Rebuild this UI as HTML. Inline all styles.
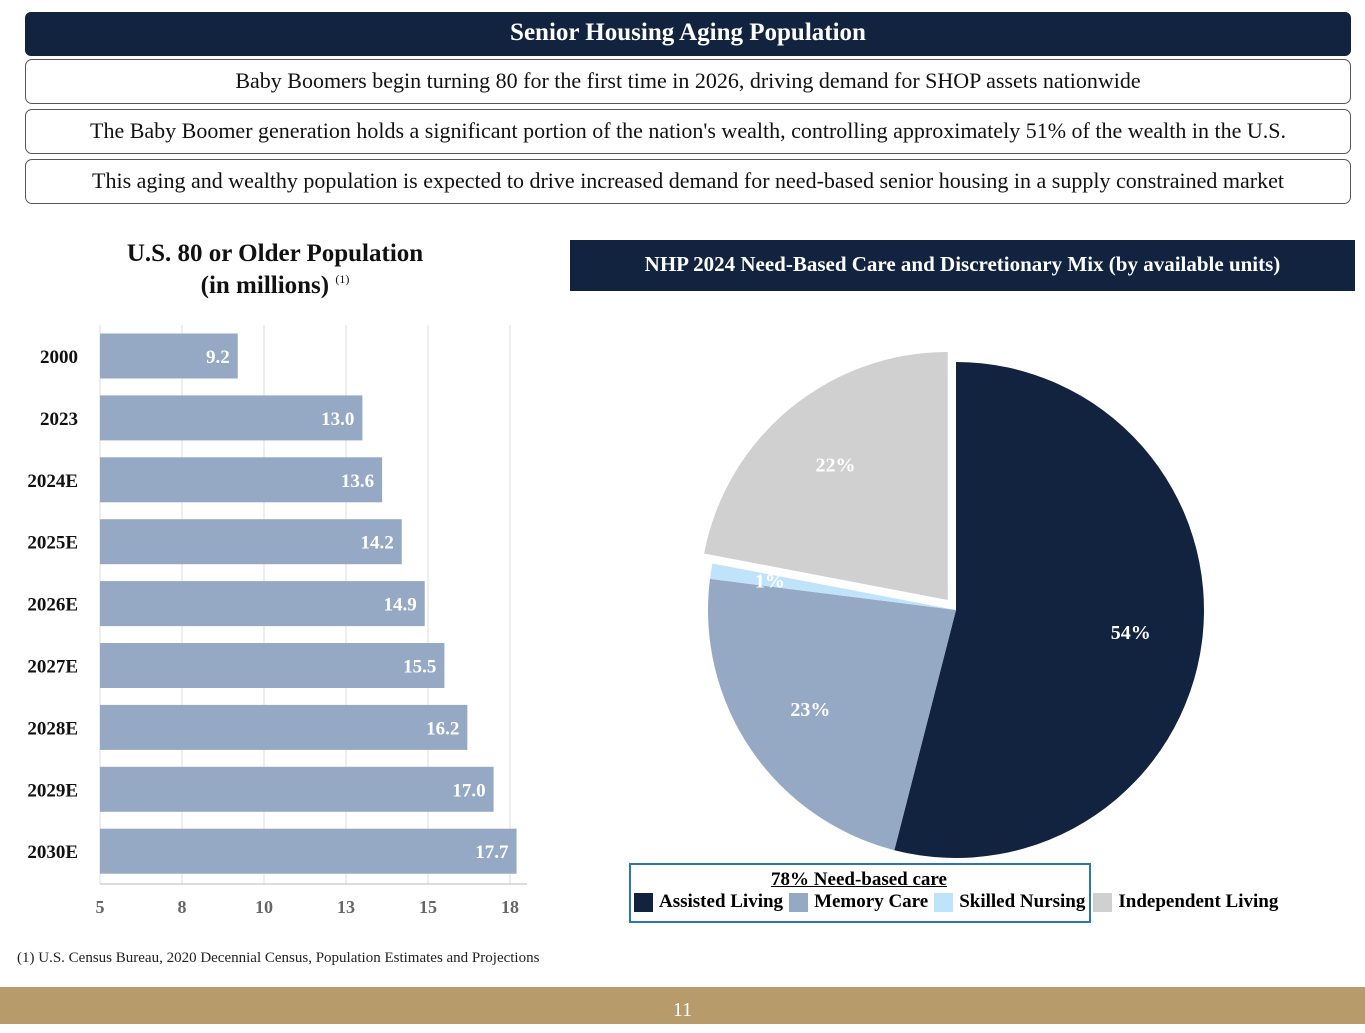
<!DOCTYPE html>
<html><head><meta charset="utf-8"><style>
body{margin:0;width:1365px;height:1024px;background:#fff;position:relative;overflow:hidden;font-family:"Liberation Serif",serif;}
.abs{position:absolute;}
.hdr{left:25px;top:12px;width:1326px;height:44px;background:#12233f;border-radius:6px;color:#fff;font-weight:bold;font-size:25px;text-align:center;line-height:42px;font-family:"Liberation Serif",serif;}
.box{left:25px;width:1324px;height:43px;border:1.5px solid #555;border-radius:7px;font-size:22px;text-align:center;line-height:42px;color:#111;font-family:"Liberation Serif",serif;}
</style></head><body>
<div class="abs hdr">Senior Housing Aging Population</div>
<div class="abs box" style="top:59px">Baby Boomers begin turning 80 for the first time in 2026, driving demand for SHOP assets nationwide</div>
<div class="abs box" style="top:109px">The Baby Boomer generation holds a significant portion of the nation's wealth, controlling approximately 51% of the wealth in the U.S.</div>
<div class="abs box" style="top:159px">This aging and wealthy population is expected to drive increased demand for need-based senior housing in a supply constrained market</div>
<div class="abs" style="left:60px;top:238px;width:430px;text-align:center;font-weight:bold;font-size:25px;line-height:32px;color:#111">U.S. 80 or Older Population<br>(in millions) <span style="font-size:12px;font-weight:normal;line-height:0;position:relative;top:-10px">(1)</span></div>
<div class="abs" style="left:570px;top:240px;width:785px;height:51px;background:#12233f;color:#fff;font-weight:bold;font-size:21px;text-align:center;line-height:48px">NHP 2024 Need-Based Care and Discretionary Mix (by available units)</div>
<svg class="abs" style="left:0;top:0" width="1365" height="1024">
<g id="bars"></g><g id="pie"></g></svg>
<div class="abs" style="left:629px;top:863px;width:458px;height:56px;border:2px solid #2e75b6"></div>
<div class="abs" style="left:629px;top:869px;width:460px;text-align:center;font-weight:bold;font-size:19px;text-decoration:underline">78% Need-based care</div>
<div class="abs" style="left:634px;top:891px;font-weight:bold;font-size:19px;white-space:nowrap;display:flex;gap:6px;align-items:center">
<span style="display:inline-block;width:19px;height:19px;background:#12233f"></span><span>Assisted Living</span>
<span style="display:inline-block;width:19px;height:19px;background:#95a9c5"></span><span>Memory Care</span>
<span style="display:inline-block;width:19px;height:19px;background:#bfe3fa"></span><span>Skilled Nursing</span>
<span style="display:inline-block;width:19px;height:19px;background:#d0d0d0;margin-left:2px"></span><span>Independent Living</span>
</div>
<div class="abs" style="left:17px;top:950px;font-size:15px;color:#222">(1) U.S. Census Bureau, 2020 Decennial Census, Population Estimates and Projections</div>
<div class="abs" style="left:0;top:987px;width:1365px;height:37px;background:#b89b6b;color:#fff;text-align:center;font-size:20px;line-height:46px">11</div>
<script>
const years=["2000","2023","2024E","2025E","2026E","2027E","2028E","2029E","2030E"];
const pops=[9.2,13.0,13.6,14.2,14.9,15.5,16.2,17.0,17.7];
const xTicks=[5,7.5,10,12.5,15,17.5];
const xTickLabels=["5","8","10","13","15","18"];
const pieLabels=["Assisted Living","Memory Care","Skilled Nursing","Independent Living"];
const pieValues=[54,23,1,22];
const pieColors=["#12233f","#95a9c5","#bfe3fa","#d0d0d0"];
const NS="http://www.w3.org/2000/svg";
function mk(t,a,p){const e=document.createElementNS(NS,t);for(const k in a)e.setAttribute(k,a[k]);p.appendChild(e);return e;}
const bx=v=>100+(v-5)*32.8, by=i=>356+i*61.9;
const bg=document.getElementById('bars');
xTicks.forEach((t,i)=>{
 const g=mk('line',{x1:bx(t),x2:bx(t),y1:325,y2:884,stroke:'#ddd'},bg);
 
 const l=mk('text',{x:bx(t),y:913,'text-anchor':'middle','font-size':18,'font-weight':'bold',fill:'#666','font-family':'Liberation Serif'},bg);l.textContent=xTickLabels[i];
 
});
mk('line',{x1:100,x2:527,y1:884,y2:884,stroke:'#bbb'},bg);
years.forEach((y,i)=>{
 const r=mk('rect',{x:bx(5),y:by(i)-22.5,width:bx(pops[i])-bx(5),height:45,fill:'#95a9c5'},bg);
 
 const v=mk('text',{x:bx(pops[i])-8,y:by(i)+7,'text-anchor':'end','font-size':19,'font-weight':'bold',fill:'#fff','font-family':'Liberation Serif'},bg);v.textContent=pops[i].toFixed(1);
 
 const c=mk('text',{x:78,y:by(i)+7,'text-anchor':'end','font-size':19,'font-weight':'bold',fill:'#111','font-family':'Liberation Serif'},bg);c.textContent=y;
 
});
const pg=document.getElementById('pie');
const cx=956,cy=610,R=248,tot=pieValues.reduce((a,b)=>a+b,0);
let a0=0;
const pt=(a,r,ox,oy)=>[cx+ox+r*Math.sin(a),cy+oy-r*Math.cos(a)];
pieValues.forEach((v,i)=>{
 const a1=a0+v/tot*2*Math.PI, mid=(a0+a1)/2;
 const off=i==3?13:0, ox=off*Math.sin(mid), oy=-off*Math.cos(mid);
 const p0=pt(a0,R,ox,oy),p1=pt(a1,R,ox,oy);
 const d=`M${cx+ox},${cy+oy}L${p0[0]},${p0[1]}A${R},${R} 0 ${a1-a0>Math.PI?1:0} 1 ${p1[0]},${p1[1]}Z`;
 const s=mk('path',{d:d,fill:pieColors[i]},pg);
 
 
 const lr=i==2?R*0.76:R*0.71;
 const lp=pt(mid,lr,ox,oy);
 const t=mk('text',{x:lp[0],y:lp[1]+7,'text-anchor':'middle','font-size':20,'font-weight':'bold',fill:'#fff','font-family':'Liberation Serif'},pg);
 t.textContent=v+'%';
 
 a0=a1;
});
</script>
</body></html>
